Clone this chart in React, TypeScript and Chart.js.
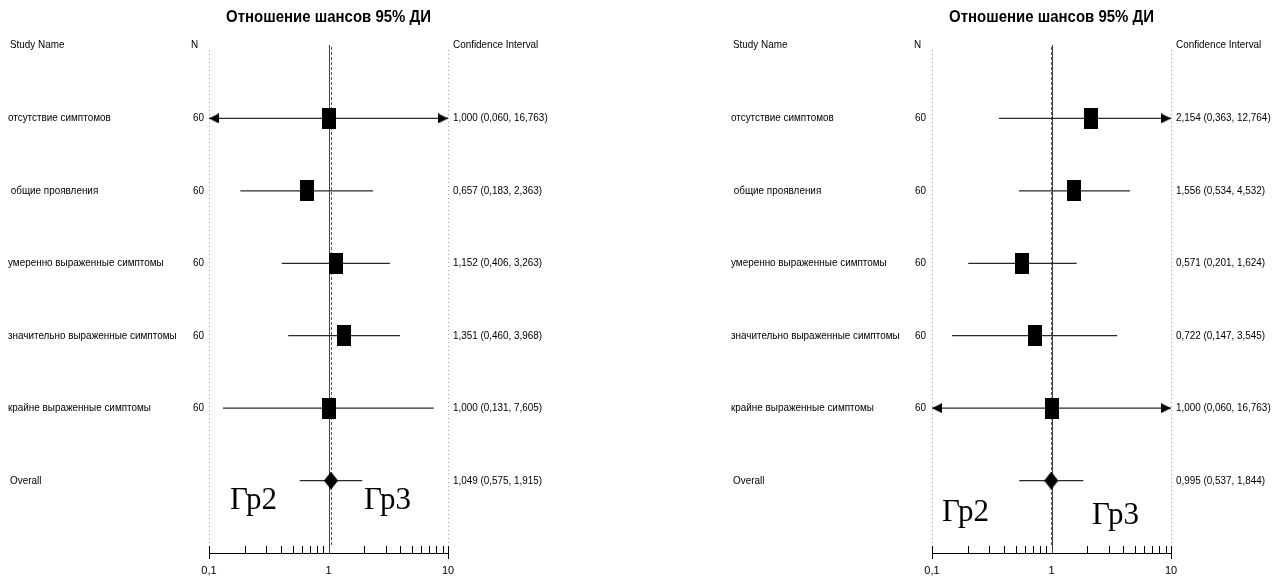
import React, { useEffect, useRef } from 'react';
import { Chart, registerables } from 'chart.js';

Chart.register(...registerables);

// ---------------- DATA ----------------
const studyNames = [
  'отсутствие симптомов',
  ' общие проявления',
  'умеренно выраженные симптомы',
  'значительно выраженные симптомы',
  'крайне выраженные симптомы',
];
const overallName = 'Overall';
const sampleSizes = [60, 60, 60, 60, 60];

const leftOR = [1.0, 0.657, 1.152, 1.351, 1.0];
const leftLower = [0.06, 0.183, 0.406, 0.46, 0.131];
const leftUpper = [16.763, 2.363, 3.263, 3.968, 7.605];
const leftOverall = [1.049, 0.575, 1.915];

const rightOR = [2.154, 1.556, 0.571, 0.722, 1.0];
const rightLower = [0.363, 0.534, 0.201, 0.147, 0.06];
const rightUpper = [12.764, 4.532, 1.624, 3.545, 16.763];
const rightOverall = [0.995, 0.537, 1.844];

const axisTicks = [0.1, 1, 10];
const titleText = 'Отношение шансов 95% ДИ';
const headerStudy = 'Study Name';
const headerN = 'N';
const headerCI = 'Confidence Interval';
const groupLabels = ['Гр2', 'Гр3'];

// ---------------- STYLE ----------------
const PANEL_W = 561;
const PANEL_H = 584;
const PLOT_LEFT = 209;
const PLOT_RIGHT = 448;
const PLOT_TOP = 46;
const AXIS_H = 31;
const SANS = '"Liberation Sans", Arial, sans-serif';
const TEXT_SX = 0.9;
const TITLE_SX = 0.88;

const fmt = (v: number) => v.toFixed(3).replace('.', ',');

function makeRect(w: number, h: number) {
  const c = document.createElement('canvas');
  c.width = w; c.height = h;
  const g = c.getContext('2d')!;
  g.fillStyle = '#000';
  g.fillRect(0, 0, w, h);
  return c;
}
function makeDiamond(w: number, h: number) {
  const c = document.createElement('canvas');
  c.width = w; c.height = h;
  const g = c.getContext('2d')!;
  g.fillStyle = '#000';
  g.beginPath();
  g.moveTo(w / 2, 0); g.lineTo(w, h / 2); g.lineTo(w / 2, h); g.lineTo(0, h / 2);
  g.closePath(); g.fill();
  return c;
}
function makeArrow(dir: 'left' | 'right', len: number, h: number) {
  const c = document.createElement('canvas');
  c.width = len * 2; c.height = h;
  const g = c.getContext('2d')!;
  g.fillStyle = '#000';
  g.beginPath();
  if (dir === 'right') {
    g.moveTo(0, 0); g.lineTo(len, h / 2); g.lineTo(0, h);
  } else {
    g.moveTo(len * 2, 0); g.lineTo(len, h / 2); g.lineTo(len * 2, h);
  }
  g.closePath(); g.fill();
  return c;
}

function drawText(
  ctx: CanvasRenderingContext2D, text: string, x: number, y: number,
  align: CanvasTextAlign, font: string, sx: number, baseline: CanvasTextBaseline = 'middle'
) {
  ctx.save();
  ctx.font = font;
  ctx.fillStyle = '#000';
  ctx.textAlign = align;
  ctx.textBaseline = baseline;
  ctx.translate(x, y);
  ctx.scale(sx, 1);
  ctx.fillText(text, 0, 0);
  ctx.restore();
}

type PanelProps = {
  or: number[];
  lower: number[];
  upper: number[];
  overall: number[];
  groupPos: { x: number; y: number }[];
  nOffset: number;
};

function ForestPanel({ or, lower, upper, overall, groupPos, nOffset }: PanelProps) {
  const ref = useRef<HTMLCanvasElement | null>(null);

  useEffect(() => {
    if (!ref.current) return;
    const axisMin = axisTicks[0];
    const axisMax = axisTicks[axisTicks.length - 1];
    const allOR = [...or, overall[0]];
    const allLo = [...lower, overall[1]];
    const allHi = [...upper, overall[2]];
    const overallRow = or.length;

    const square = makeRect(14, 21);
    const diamond = makeDiamond(14, 18);
    const arrowL = makeArrow('left', 10, 10);
    const arrowR = makeArrow('right', 10, 10);

    const lineSets: any[] = allOR.map((_, i) => ({
      data: [
        { x: Math.max(allLo[i], axisMin), y: i },
        { x: Math.min(allHi[i], axisMax), y: i },
      ],
      showLine: true,
      borderColor: '#2a2a2a',
      borderWidth: 1.3,
      pointRadius: 0,
      order: 3,
      clip: false,
    }));

    const arrowPts: any[] = [];
    allOR.forEach((_, i) => {
      if (allLo[i] < axisMin) arrowPts.push({ x: axisMin, y: i, dir: 'left' });
      if (allHi[i] > axisMax) arrowPts.push({ x: axisMax, y: i, dir: 'right' });
    });

    const minorTicks: number[] = [];
    for (let d = 0; d < axisTicks.length - 1; d++) {
      for (let k = 2; k <= 9; k++) minorTicks.push(axisTicks[d] * k);
    }

    const overlay = {
      id: 'forestOverlay',
      beforeDatasetsDraw(chart: any) {
        const ctx: CanvasRenderingContext2D = chart.ctx;
        const xs = chart.scales.x;
        const area = chart.chartArea;
        ctx.save();
        // dotted boundary lines
        ctx.strokeStyle = '#a0a0a0';
        ctx.lineWidth = 1;
        ctx.setLineDash([1, 3]);
        [axisMin, axisMax].forEach((v) => {
          const px = Math.round(xs.getPixelForValue(v)) + 0.5;
          ctx.beginPath();
          ctx.moveTo(px, area.top + 4);
          ctx.lineTo(px, area.bottom - 6);
          ctx.stroke();
        });
        // dashed overall line
        ctx.strokeStyle = '#555';
        ctx.setLineDash([3, 2]);
        const ox = Math.round(xs.getPixelForValue(overall[0])) + 0.5;
        ctx.beginPath();
        ctx.moveTo(ox, area.top + 1);
        ctx.lineTo(ox, area.bottom - 6);
        ctx.stroke();
        // solid no-effect line
        ctx.setLineDash([]);
        ctx.strokeStyle = '#444';
        const x1 = Math.round(xs.getPixelForValue(1)) + 0.5;
        ctx.beginPath();
        ctx.moveTo(x1, area.top - 1);
        ctx.lineTo(x1, area.bottom);
        ctx.stroke();
        // axis ticks
        ctx.strokeStyle = '#000';
        minorTicks.forEach((v) => {
          const px = Math.round(xs.getPixelForValue(v)) + 0.5;
          ctx.beginPath();
          ctx.moveTo(px, area.bottom - 7);
          ctx.lineTo(px, area.bottom);
          ctx.stroke();
        });
        [axisMin, axisMax].forEach((v) => {
          const px = Math.round(xs.getPixelForValue(v)) + 0.5;
          ctx.beginPath();
          ctx.moveTo(px, area.bottom - 7);
          ctx.lineTo(px, area.bottom + 6);
          ctx.stroke();
        });
        ctx.restore();
      },
      afterDraw(chart: any) {
        const ctx: CanvasRenderingContext2D = chart.ctx;
        const ys = chart.scales.y;
        const area = chart.chartArea;
        const sx = TEXT_SX;
        const small = `11px ${SANS}`;
        const headY = area.top - 1;
        // title
        drawText(ctx, titleText, (area.left + area.right) / 2, 17, 'center', `bold 17px ${SANS}`, TITLE_SX);
        // headers
        drawText(ctx, headerStudy, 10, headY, 'left', small, sx);
        drawText(ctx, headerN, area.left - 18, headY, 'left', small, sx);
        drawText(ctx, headerCI, area.right + 5, headY, 'left', small, sx);
        // rows
        studyNames.forEach((name, i) => {
          const y = ys.getPixelForValue(i);
          drawText(ctx, name, 8, y, 'left', small, sx);
          drawText(ctx, String(sampleSizes[i]), area.left - nOffset, y, 'right', small, sx);
          drawText(ctx, `${fmt(or[i])} (${fmt(lower[i])}, ${fmt(upper[i])})`, area.right + 5, y, 'left', small, sx);
        });
        const yo = ys.getPixelForValue(overallRow);
        drawText(ctx, overallName, 10, yo, 'left', small, sx);
        drawText(ctx, `${fmt(overall[0])} (${fmt(overall[1])}, ${fmt(overall[2])})`, area.right + 5, yo, 'left', small, sx);
        // group labels
        groupLabels.forEach((g, i) => {
          drawText(ctx, g, groupPos[i].x, groupPos[i].y, 'left', '31px "Liberation Serif", "Times New Roman", serif', 1, 'alphabetic');
        });
      },
    };

    const chart = new Chart(ref.current, {
      type: 'scatter',
      data: {
        datasets: [
          ...lineSets,
          {
            data: arrowPts,
            pointStyle: (c: any) => (c.raw && c.raw.dir === 'left' ? arrowL : arrowR),
            pointRadius: 10,
            order: 2,
            clip: false,
          },
          {
            data: or.map((v, i) => ({ x: v, y: i })),
            pointStyle: square,
            pointRadius: 10,
            order: 1,
            clip: false,
          },
          {
            data: [{ x: overall[0], y: overallRow }],
            pointStyle: diamond,
            pointRadius: 10,
            order: 1,
            clip: false,
          },
        ],
      },
      options: {
        animation: false,
        responsive: false,
        devicePixelRatio: 1,
        events: [],
        layout: {
          padding: { left: PLOT_LEFT, right: PANEL_W - PLOT_RIGHT, top: PLOT_TOP, bottom: 0 },
        },
        plugins: {
          legend: { display: false },
          title: { display: false },
          tooltip: { enabled: false },
        },
        scales: {
          x: {
            type: 'logarithmic',
            min: axisMin,
            max: axisMax,
            position: 'bottom',
            grid: { display: false },
            border: { display: true, color: '#000', width: 1 },
            ticks: {
              color: '#000',
              font: { family: SANS, size: 11 },
              padding: 3,
              autoSkip: false,
              maxRotation: 0,
              callback: (v: any) => String(v).replace('.', ','),
            },
            afterBuildTicks: (s: any) => {
              s.ticks = axisTicks.map((v) => ({ value: v }));
            },
            afterFit: (s: any) => {
              s.height = AXIS_H;
            },
          },
          y: {
            type: 'linear',
            min: -1,
            max: overallRow + 1,
            reverse: true,
            display: false,
          },
        },
      } as any,
      plugins: [overlay],
    });
    return () => chart.destroy();
  }, [or, lower, upper, overall, groupPos, nOffset]);

  return <canvas ref={ref} width={PANEL_W} height={PANEL_H} style={{ display: 'block', width: PANEL_W, height: PANEL_H }} />;
}

const leftGroupPos = [{ x: 230, y: 509 }, { x: 364, y: 509 }];
const rightGroupPos = [{ x: 219, y: 521 }, { x: 369, y: 524 }];

export default function App() {
  return (
    <div style={{ position: 'fixed', left: 0, top: 0, width: 1284, height: 584, background: '#fff' }}>
      <div style={{ position: 'absolute', left: 0, top: 0 }}>
        <ForestPanel or={leftOR} lower={leftLower} upper={leftUpper} overall={leftOverall} groupPos={leftGroupPos} nOffset={5} />
      </div>
      <div style={{ position: 'absolute', left: 723, top: 0 }}>
        <ForestPanel or={rightOR} lower={rightLower} upper={rightUpper} overall={rightOverall} groupPos={rightGroupPos} nOffset={6} />
      </div>
    </div>
  );
}
